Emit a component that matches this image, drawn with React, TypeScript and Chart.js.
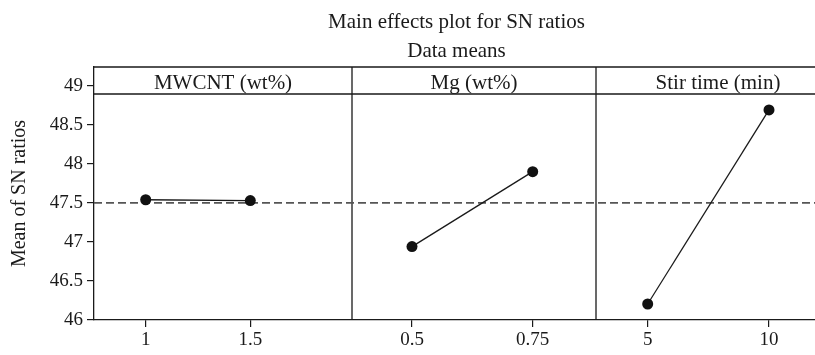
import React, { useEffect, useRef } from "react";
import { Chart, registerables } from "chart.js";

Chart.register(...registerables);

// ---- data ----
const factorNames = ["MWCNT (wt%)", "Mg (wt%)", "Stir time (min)"];
const mwcntLevels = ["1", "1.5"];
const mgLevels = ["0.5", "0.75"];
const stirLevels = ["5", "10"];
const mwcntMeans = [47.54, 47.53];
const mgMeans = [46.94, 47.9];
const stirMeans = [46.205, 48.69];
const overallMean = 47.5;
const yTickValues = [46, 46.5, 47, 47.5, 48, 48.5, 49];

const chartTitle = "Main effects plot for SN ratios";
const chartSubtitle = "Data means";
const yAxisTitle = "Mean of SN ratios";

// ---- layout (x-axis units) ----
const PANEL_LEFT = [0, 258, 502];
const PANEL_WIDTH = [258, 244, 244];
const LEVEL_OFFSET = [51.7, 60, 51.7];
const LEVEL_STEP = [104.6, 120.7, 121.3];
const X_MAX = 721;
const Y_MIN = 46;
const Y_MAX = 49.24;
const HEADER_H = 27;

const FONT = "'Liberation Serif', 'Times New Roman', serif";
const INK = "#1a1a1a";

const levels = [mwcntLevels, mgLevels, stirLevels];
const means = [mwcntMeans, mgMeans, stirMeans];

const levelX = (p: number, j: number) => PANEL_LEFT[p] + LEVEL_OFFSET[p] + j * LEVEL_STEP[p];

const xTicks: { value: number; label: string }[] = [];
levels.forEach((lv, p) => lv.forEach((l, j) => xTicks.push({ value: levelX(p, j), label: l })));

const framePlugin = {
  id: "frame",
  beforeDatasetsDraw(chart: any) {
    const { ctx, chartArea, scales } = chart;
    const x = scales.x;
    const top = chartArea.top;
    const bottom = chartArea.bottom;
    ctx.save();
    ctx.strokeStyle = INK;
    ctx.lineWidth = 1.3;
    ctx.beginPath();
    ctx.moveTo(chartArea.left, top);
    ctx.lineTo(chartArea.right, top);
    ctx.moveTo(chartArea.left, top + HEADER_H);
    ctx.lineTo(chartArea.right, top + HEADER_H);
    for (let p = 1; p < PANEL_LEFT.length; p++) {
      const px = x.getPixelForValue(PANEL_LEFT[p]);
      ctx.moveTo(px, top);
      ctx.lineTo(px, bottom);
    }
    ctx.stroke();
    ctx.restore();
  },
  afterDraw(chart: any) {
    const { ctx, chartArea, scales } = chart;
    const x = scales.x;
    const top = chartArea.top;
    ctx.save();
    ctx.fillStyle = INK;
    ctx.textAlign = "center";
    ctx.textBaseline = "alphabetic";
    ctx.font = `21px ${FONT}`;
    factorNames.forEach((name, p) => {
      const cx = x.getPixelForValue(PANEL_LEFT[p] + PANEL_WIDTH[p] / 2);
      ctx.fillText(name, cx, top + 21.5);
    });
    const cx = (chartArea.left + chartArea.right) / 2 + 2;
    ctx.font = `21px ${FONT}`;
    ctx.fillText(chartTitle, cx, 28);
    ctx.fillText(chartSubtitle, cx, 57);
    ctx.restore();
  },
};

export default function App() {
  const ref = useRef<HTMLCanvasElement | null>(null);
  useEffect(() => {
    if (!ref.current) return;
    const datasets: any[] = means.map((m, p) => ({
      data: m.map((v, j) => ({ x: levelX(p, j), y: v })),
      borderColor: INK,
      borderWidth: 1.3,
      pointRadius: 5.5,
      pointBackgroundColor: "#111",
      pointBorderColor: "#111",
      pointBorderWidth: 0,
      fill: false,
      tension: 0,
    }));
    datasets.push({
      data: [
        { x: 0, y: overallMean },
        { x: X_MAX, y: overallMean },
      ],
      borderColor: "#555",
      borderWidth: 1.6,
      borderDash: [8, 4],
      pointRadius: 0,
      fill: false,
    });
    const chart = new Chart(ref.current, {
      type: "line",
      data: { datasets },
      options: {
        animation: false,
        responsive: false,
        maintainAspectRatio: false,
        layout: { autoPadding: false, padding: { top: 67, left: 0, right: 0, bottom: 0 } },
        plugins: {
          legend: { display: false },
          tooltip: { enabled: false },
          title: { display: false },
        },
        scales: {
          x: {
            type: "linear",
            min: 0,
            max: X_MAX,
            afterBuildTicks: (s: any) => {
              s.ticks = xTicks.map((t) => ({ value: t.value }));
            },
            afterFit: (s: any) => {
              s.height = 35;
              s.paddingLeft = 0;
              s.paddingRight = 0;
            },
            ticks: {
              autoSkip: false,
              maxRotation: 0,
              padding: 2,
              color: INK,
              font: { family: FONT, size: 19 },
              callback: (v: any) => {
                const t = xTicks.find((tt) => Math.abs(tt.value - v) < 1e-6);
                return t ? t.label : "";
              },
            },
            grid: { drawOnChartArea: false, drawTicks: true, tickLength: 7, color: INK, lineWidth: 1.2 },
            border: { display: true, color: INK, width: 1.3 },
          },
          y: {
            type: "linear",
            min: Y_MIN,
            max: Y_MAX,
            afterBuildTicks: (s: any) => {
              s.ticks = yTickValues.map((v) => ({ value: v }));
            },
            afterFit: (s: any) => {
              s.width = 94;
              s.paddingTop = 0;
              s.paddingBottom = 0;
            },
            ticks: {
              padding: 4,
              color: INK,
              font: { family: FONT, size: 19 },
              callback: (v: any) => String(v),
            },
            grid: { drawOnChartArea: false, drawTicks: true, tickLength: 7, color: INK, lineWidth: 1.2 },
            border: { display: true, color: INK, width: 1.3 },
            title: {
              display: true,
              text: yAxisTitle,
              color: INK,
              font: { family: FONT, size: 20 },
              padding: { top: 8, bottom: 0 },
            },
          },
        },
      },
      plugins: [framePlugin],
    });
    return () => chart.destroy();
  }, []);
  return (
    <div style={{ position: "absolute", left: 0, top: 0, width: 815, height: 355, background: "#fff" }}>
      <canvas ref={ref} width={815} height={355} style={{ display: "block" }} />
    </div>
  );
}
